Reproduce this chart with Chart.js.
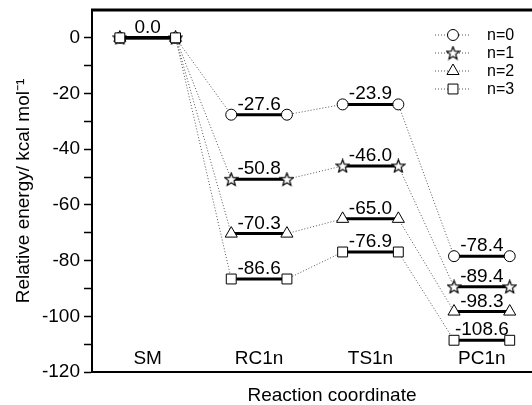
<!DOCTYPE html>
<html>
<head>
<meta charset="utf-8">
<script src="https://cdn.jsdelivr.net/npm/chart.js@4.4.1/dist/chart.umd.min.js"></script>
<style>
  html, body { margin: 0; padding: 0; background: #fff; }
  #wrap { width: 532px; height: 405px; }
</style>
</head>
<body>
<div id="wrap"><canvas id="energyChart" width="532" height="405"></canvas></div>
<script>
// reaction path categories and relative energies (kcal/mol)
var stages = ['SM', 'RC1n', 'TS1n', 'PC1n'];
var seriesNames = ['n=0', 'n=1', 'n=2', 'n=3'];
var energyN0 = [0.0, -27.6, -23.9, -78.4];
var energyN1 = [0.0, -50.8, -46.0, -89.4];
var energyN2 = [0.0, -70.3, -65.0, -98.3];
var energyN3 = [0.0, -86.6, -76.9, -108.6];
var yTicks = [0, -20, -40, -60, -80, -100, -120];

var FONT = "'Liberation Sans', Arial, sans-serif";

// five pointed open star for n=1
function makeStar(){
	var c = document.createElement('canvas');
	c.width = 15; c.height = 15;
	var g = c.getContext('2d');
	g.beginPath();
	for (var i = 0; i < 10; i++) {
		var r = (i % 2 === 0) ? 6.8 : 2.9;
		var a = -Math.PI / 2 + i * Math.PI / 5;
		var px = 7.5 + r * Math.cos(a), py = 8 + r * Math.sin(a);
		if (i === 0) g.moveTo(px, py); else g.lineTo(px, py);
	}
	g.closePath();
	g.fillStyle = '#fff';
	g.fill();
	g.lineWidth = 1.2;
	g.strokeStyle = '#000';
	g.stroke();
	return c;
}

var markers = [
	{style: 'circle', radius: 5.5},
	{style: makeStar(), radius: 7},
	{style: 'triangle', radius: 7},
	{style: 'rect', radius: 7}
];

// each level is a short bar centred on its stage, points at both ends
function levelPoints(values){
	var pts = [];
	values.forEach(function(v, i){
		pts.push({x: i + 1 - 0.25, y: v});
		pts.push({x: i + 1 + 0.25, y: v});
	});
	return pts;
}

var allEnergies = [energyN0, energyN1, energyN2, energyN3];

var datasets = allEnergies.map(function(values, n){
	return {
		label: seriesNames[n],
		data: levelPoints(values),
		order: 3 - n,
		borderColor: '#000',
		borderWidth: 3,
		pointStyle: markers[n].style,
		pointRadius: markers[n].radius,
		pointBorderWidth: 1,
		pointBorderColor: '#000',
		pointBackgroundColor: '#fff',
		segment: {
			borderColor: function(ctx){ return ctx.p0DataIndex % 2 === 0 ? '#000' : '#555'; },
			borderWidth: function(ctx){ return ctx.p0DataIndex % 2 === 0 ? 3 : 1; },
			borderDash: function(ctx){ return ctx.p0DataIndex % 2 === 0 ? [] : [1, 2]; }
		}
	};
});

// value labels, stage names, top frame, x title and the legend
var extras = {
	id: 'extras',
	afterDatasetsDraw: function(chart){
		var ctx = chart.ctx;
		var xs = chart.scales.x, ys = chart.scales.y;
		var area = chart.chartArea;
		ctx.save();

		// top frame
		ctx.strokeStyle = '#000';
		ctx.lineWidth = 3;
		ctx.beginPath();
		ctx.moveTo(area.left - 1, area.top);
		ctx.lineTo(chart.width, area.top);
		ctx.stroke();

		// level values
		ctx.fillStyle = '#000';
		ctx.font = '19px ' + FONT;
		ctx.textAlign = 'center';
		ctx.textBaseline = 'alphabetic';
		allEnergies.forEach(function(values, n){
			values.forEach(function(v, i){
				if (i === 0 && n > 0) return;
				ctx.fillText(v.toFixed(1), xs.getPixelForValue(i + 1), ys.getPixelForValue(v) - 5);
			});
		});

		// stage names inside the plot
		stages.forEach(function(s, i){
			ctx.fillText(s, xs.getPixelForValue(i + 1), area.bottom - 8);
		});

		// axis title, centred on the full (cropped) frame
		ctx.textBaseline = 'middle';
		ctx.fillText('Reaction coordinate', 332, 396);

		// legend
		var lx = 453, ly = 35, step = 18;
		chart.data.datasets.forEach(function(ds, n){
			var y = ly + n * step;
			ctx.strokeStyle = '#555';
			ctx.lineWidth = 1;
			ctx.setLineDash([1, 2]);
			ctx.beginPath();
			ctx.moveTo(lx - 18, y);
			ctx.lineTo(lx + 18, y);
			ctx.stroke();
			ctx.setLineDash([]);
			ctx.fillStyle = '#fff';
			ctx.strokeStyle = '#000';
			Chart.helpers.drawPoint(ctx, {pointStyle: ds.pointStyle, radius: ds.pointRadius, borderWidth: 1, rotation: 0}, lx, y);
			ctx.fillStyle = '#000';
			ctx.font = '16px ' + FONT;
			ctx.textAlign = 'left';
			ctx.textBaseline = 'middle';
			ctx.fillText(ds.label, lx + 34, y + 1);
		});
		ctx.restore();
	}
};

new Chart(document.getElementById('energyChart'), {
	type: 'line',
	data: {datasets: datasets},
	plugins: [extras],
	options: {
		responsive: false,
		animation: false,
		events: [],
		layout: {autoPadding: false, padding: {top: 10, right: 0, left: 0, bottom: 0}},
		plugins: {legend: {display: false}, tooltip: {enabled: false}},
		scales: {
			x: {
				type: 'linear',
				min: 0.5,
				max: 4.45,
				ticks: {display: false},
				grid: {display: false},
				border: {display: true, color: '#000', width: 2},
				afterFit: function(s){ s.height = 33; s.paddingLeft = 0; s.paddingRight = 0; }
			},
			y: {
				min: -120,
				max: 10,
				ticks: {
					stepSize: 10,
					color: '#000',
					padding: 4,
					font: {family: FONT, size: 19},
					callback: function(v){ return yTicks.indexOf(v) >= 0 ? v : ''; }
				},
				grid: {
					drawOnChartArea: false,
					drawTicks: true,
					tickLength: 8,
					tickWidth: 1.5,
					tickColor: function(ctx){ return ctx.tick && ctx.tick.value > 0 ? 'rgba(0,0,0,0)' : '#000'; }
				},
				border: {display: true, color: '#000', width: 2},
				title: {
					display: true,
					text: 'Relative energy/ kcal mol\u207B\u00B9',
					color: '#000',
					font: {family: FONT, size: 19, lineHeight: 1},
					padding: {top: 14, bottom: 0}
				},
				afterFit: function(s){ s.width = 92; s.paddingTop = 0; s.paddingBottom = 0; }
			}
		}
	}
});
</script>
</body>
</html>
